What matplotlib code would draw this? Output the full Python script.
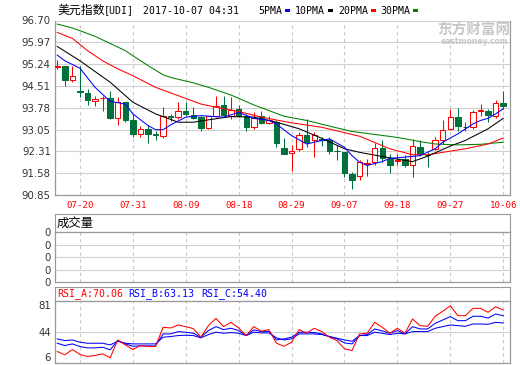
import numpy as np
import matplotlib
matplotlib.use('Agg')
import matplotlib.pyplot as plt
from matplotlib.patches import Rectangle

# trading days shown on the chart (MM-DD)
dates = ['07-17', '07-18', '07-19', '07-20', '07-21', '07-24', '07-25', '07-26', '07-27', '07-28',
         '07-31', '08-01', '08-02', '08-03', '08-04', '08-07', '08-08', '08-09', '08-10', '08-11',
         '08-14', '08-15', '08-16', '08-17', '08-18', '08-21', '08-22', '08-23', '08-24', '08-25',
         '08-28', '08-29', '08-30', '08-31', '09-01', '09-04', '09-05', '09-06', '09-07', '09-08',
         '09-11', '09-12', '09-13', '09-14', '09-15', '09-18', '09-19', '09-20', '09-21', '09-22',
         '09-25', '09-26', '09-27', '09-28', '09-29', '10-02', '10-03', '10-04', '10-05', '10-06']
date_ticks = ['07-20', '07-31', '08-09', '08-18', '08-29', '09-07', '09-18', '09-27', '10-06']

# daily OHLC
opens = [95.14, 95.19, 94.71, 94.33, 94.27, 93.99, 94.09, 94.10, 93.44, 93.97,
         93.38, 92.88, 93.07, 92.89, 92.84, 93.50, 93.46, 93.66, 93.52, 93.45,
         93.11, 93.49, 93.87, 93.51, 93.74, 93.49, 93.14, 93.49, 93.26, 93.29,
         92.43, 92.25, 92.40, 92.87, 92.70, 92.72, 92.70, 92.33, 92.29, 91.56,
         91.48, 91.90, 91.95, 92.44, 92.06, 92.00, 92.06, 91.87, 92.46, 92.20,
         92.40, 92.71, 93.07, 93.46, 93.13, 93.12, 93.67, 93.68, 93.51, 93.93]
highs = [95.36, 95.19, 95.19, 95.19, 94.41, 94.16, 94.16, 94.32, 94.15, 93.97,
         93.55, 93.16, 93.20, 93.01, 93.80, 93.57, 93.96, 93.96, 93.81, 93.51,
         93.51, 94.16, 94.18, 94.13, 93.87, 93.57, 93.62, 93.65, 93.49, 93.35,
         92.75, 92.53, 92.95, 93.40, 92.95, 92.79, 92.79, 92.53, 92.30, 91.62,
         92.01, 92.06, 92.59, 92.71, 92.23, 92.23, 92.20, 92.73, 92.68, 92.29,
         92.79, 93.35, 93.74, 93.76, 93.29, 93.71, 93.90, 93.74, 94.04, 94.32]
lows = [95.08, 94.52, 94.65, 94.13, 93.87, 93.85, 93.65, 93.40, 93.18, 93.29,
        92.79, 92.81, 92.59, 92.68, 92.75, 93.33, 93.40, 93.51, 93.40, 92.98,
        93.07, 93.47, 93.49, 93.40, 93.46, 93.01, 93.07, 93.23, 93.22, 92.45,
        92.21, 91.64, 92.31, 92.45, 92.14, 92.48, 92.21, 92.04, 91.45, 91.04,
        91.34, 91.50, 91.86, 91.95, 91.58, 91.84, 91.78, 91.45, 92.17, 91.80,
        92.37, 92.56, 93.03, 92.98, 93.01, 93.07, 93.49, 93.31, 93.42, 93.74]
closes = [95.16, 94.71, 94.83, 94.31, 94.02, 94.07, 94.11, 93.44, 93.96, 93.38,
          92.88, 93.07, 92.90, 92.87, 93.49, 93.48, 93.66, 93.55, 93.44, 93.11,
          93.49, 93.85, 93.54, 93.70, 93.49, 93.14, 93.43, 93.26, 93.35, 92.59,
          92.24, 92.34, 92.85, 92.64, 92.85, 92.70, 92.34, 92.31, 91.58, 91.36,
          91.95, 91.92, 92.43, 92.10, 91.87, 92.02, 91.87, 92.49, 92.23, 92.19,
          92.70, 93.03, 93.46, 93.16, 93.12, 93.62, 93.68, 93.54, 93.93, 93.82]

# moving averages (candle index, value)
ma5_idx = [0, 1, 3, 5, 7, 9, 10, 12, 13, 14, 15, 17, 19, 22, 24, 26, 28, 29, 31, 33,
           34, 36, 38, 39, 40, 41, 43, 44, 46, 48, 50, 51, 53, 55, 56, 57, 58, 59]
ma5_val = [95.54, 95.35, 95.10, 94.46, 93.99, 93.90, 93.57, 93.18, 93.04, 93.04,
           93.20, 93.46, 93.51, 93.46, 93.62, 93.42, 93.35, 93.23, 92.84, 92.56,
           92.62, 92.73, 92.45, 92.17, 91.95, 91.84, 91.97, 92.08, 92.12, 92.17,
           92.40, 92.62, 92.90, 93.23, 93.35, 93.42, 93.57, 93.74]
ma10_idx = [0, 3, 5, 7, 10, 13, 16, 18, 20, 23, 26, 29, 32, 35, 38, 40, 43, 46, 47, 49,
            52, 54, 57, 59]
ma10_val = [95.83, 95.35, 94.99, 94.63, 93.96, 93.57, 93.29, 93.29, 93.37, 93.48,
            93.46, 93.29, 93.07, 92.75, 92.40, 92.28, 92.14, 92.01, 91.97, 92.15,
            92.49, 92.68, 93.07, 93.42]
ma20_idx = [0, 2, 4, 6, 8, 10, 13, 16, 19, 21, 24, 27, 31, 35, 40, 44, 47, 49, 51, 54, 57, 59]
ma20_val = [96.30, 96.10, 95.69, 95.35, 95.08, 94.85, 94.46, 94.18, 93.90, 93.79,
            93.65, 93.46, 93.27, 93.12, 92.82, 92.40, 92.20, 92.20, 92.28, 92.40,
            92.56, 92.76]
ma30_idx = [0, 2, 5, 9, 10, 12, 14, 15, 18, 20, 23, 26, 30, 33, 36, 39, 42, 45, 48, 50,
            53, 56, 59]
ma30_val = [96.58, 96.45, 96.17, 95.69, 95.52, 95.19, 94.88, 94.79, 94.61, 94.46,
            94.20, 93.87, 93.49, 93.35, 93.16, 92.98, 92.88, 92.78, 92.64, 92.56,
            92.53, 92.55, 92.62]

price_ticks = ['90.85', '91.58', '92.31', '93.05', '93.78', '94.51', '95.24', '95.97', '96.70']

# RSI lines
rsi_a = [19.9, 15.9, 22.3, 16.3, 13.9, 15.1, 17.1, 12.3, 33.9, 27.9,
         22.3, 27.1, 25.9, 25.9, 49.2, 48.4, 52.0, 50.0, 47.6, 37.2,
         51.2, 60.0, 50.0, 55.2, 48.4, 39.2, 50.0, 44.4, 46.4, 29.9,
         26.3, 31.1, 46.4, 42.0, 48.0, 44.0, 37.2, 33.1, 23.1, 21.1,
         41.2, 42.0, 55.2, 49.2, 42.0, 48.0, 42.0, 59.2, 51.2, 50.4,
         62.5, 68.5, 75.3, 63.3, 63.3, 72.1, 72.1, 67.3, 74.1, 70.06]
rsi_b = [29.9, 27.1, 29.1, 25.9, 24.3, 24.3, 25.1, 21.9, 33.1, 29.1,
         26.3, 26.7, 26.7, 26.7, 41.2, 41.2, 44.0, 43.2, 42.0, 37.2,
         45.2, 50.0, 46.4, 48.0, 45.2, 39.2, 46.0, 44.0, 44.4, 33.9,
         35.2, 37.2, 43.2, 43.2, 42.8, 41.2, 38.0, 35.2, 30.3, 29.1,
         39.2, 40.4, 47.2, 44.8, 42.0, 45.2, 41.2, 50.0, 47.2, 47.2,
         54.0, 58.0, 62.1, 57.2, 57.2, 62.5, 62.5, 60.4, 65.3, 63.13]
rsi_c = [35.2, 33.1, 33.9, 31.1, 29.9, 29.9, 29.9, 27.9, 32.3, 29.9,
         29.1, 29.1, 29.1, 29.1, 37.2, 38.0, 39.2, 39.6, 39.2, 36.4,
         40.4, 43.2, 42.0, 42.8, 42.0, 39.2, 43.2, 42.4, 42.4, 36.4,
         33.9, 35.2, 41.2, 41.2, 41.2, 40.4, 38.0, 36.0, 33.9, 32.3,
         39.2, 39.2, 43.2, 42.0, 40.4, 42.0, 41.2, 44.0, 44.0, 44.0,
         48.0, 50.0, 52.0, 51.2, 50.4, 53.2, 53.2, 52.8, 55.2, 54.40]

W, H = 520, 365
RED = '#ff0000'
GREEN = '#00703c'
BLUE = '#0000ff'
EDGE = '#999999'
GRID = '#d0d0d0'
MONO = ['DejaVu Sans Mono', 'Noto Sans CJK SC']
CJK = ['Noto Sans CJK SC', 'DejaVu Sans']
LW = 0.75


def box(l, t, r, b):
    # pixel box -> figure rect
    return [l / W, 1 - b / H, (r - l) / W, (b - t) / H]


def ftext(x, y, s, **kw):
    fig.text(x / W, 1 - y / H, s, va='center', **kw)


def style(ax, ticks):
    ax.set_xlim(-0.3, 59.9)
    ax.set_xticks(ticks)
    ax.set_xticklabels([])
    ax.tick_params(length=0, labelsize=7.3, labelcolor='#333333', pad=3)
    ax.grid(axis='x', color='#c8c8c8', linestyle=(0, (3, 3)), lw=0.8)
    ax.grid(axis='y', color=GRID, linestyle='-', lw=0.8)
    for s in ax.spines.values():
        s.set_color(EDGE)
        s.set_linewidth(0.9)


fig = plt.figure(figsize=(W / 100, H / 100), dpi=100)

x = np.arange(len(dates))
o = np.array(opens)
c = np.array(closes)
up = c >= o
tick_pos = [dates.index(d) for d in date_ticks]

# ---- price panel
ax = fig.add_axes(box(55, 20.5, 510, 195))
style(ax, tick_pos)
ax.spines['top'].set_visible(False)
ax.set_ylim(90.85, 96.70)
ax.set_yticks(np.linspace(90.85, 96.70, 9))
ax.set_yticklabels(price_ticks)

col = np.where(up, RED, GREEN)
ax.vlines(x, lows, highs, colors=col, lw=LW, zorder=3)
body = np.maximum(np.abs(c - o), 0.015)
ax.bar(x, body, bottom=np.minimum(o, c), width=0.72,
       color=np.where(up, 'white', GREEN), edgecolor=col, lw=LW, zorder=4)

ax.plot(ma30_idx, ma30_val, color='#008000', lw=LW, zorder=5)
ax.plot(ma20_idx, ma20_val, color=RED, lw=LW, zorder=5)
ax.plot(ma10_idx, ma10_val, color='black', lw=LW, zorder=5)
ax.plot(ma5_idx, ma5_val, color=BLUE, lw=LW, zorder=5)

for p, d in zip(tick_pos, date_ticks):
    ax.text(p, -0.035, d, transform=ax.get_xaxis_transform(), ha='center', va='top',
            color=RED, fontsize=6.6, family=MONO)

# ---- volume panel (empty)
axvh = fig.add_axes(box(55, 214, 510, 232))
axvh.set_xticks([]); axvh.set_yticks([])
for s in axvh.spines.values():
    s.set_color(EDGE)
ftext(57, 223.5, '成交量', fontsize=8.9, family=CJK)

axv = fig.add_axes(box(55, 232, 510, 282))
style(axv, tick_pos)
axv.set_ylim(0, 4)
axv.set_yticks([0, 1, 2, 3, 4])
axv.set_yticklabels(['0'] * 5)

# ---- RSI panel
axrh = fig.add_axes(box(55, 287, 510, 301))
axrh.set_xticks([]); axrh.set_yticks([])
for s in axrh.spines.values():
    s.set_color(EDGE)
ftext(57, 294, 'RSI_A:70.06', color=RED, fontsize=7.1, family=MONO)
ftext(128, 294, 'RSI_B:63.13', color=BLUE, fontsize=7.1, family=MONO)
ftext(201, 294, 'RSI_C:54.40', color=BLUE, fontsize=7.1, family=MONO)

axr = fig.add_axes(box(55, 301, 510, 363))
style(axr, tick_pos)
axr.set_ylim(6, 81)
axr.set_yticks([6, 44, 81])
axr.set_yticklabels(['6', '44', '81'])
labs = axr.get_yticklabels()
labs[0].set_va('bottom')
labs[2].set_va('top')
axr.plot(x, rsi_c, color=BLUE, lw=LW)
axr.plot(x, rsi_b, color=BLUE, lw=LW)
axr.plot(x, rsi_a, color=RED, lw=LW)

# ---- header line
ftext(57, 10.5, '美元指数', fontsize=8.6, family=CJK)
ftext(104, 10.5, '[UDI]', fontsize=7.1, family=MONO)
ftext(143, 10.5, '2017-10-07 04:31', fontsize=7.1, family=MONO)
for lx, name, mc in [(258, '5PMA', BLUE), (295, '10PMA', 'black'),
                     (338, '20PMA', RED), (380, '30PMA', '#008000')]:
    ftext(lx, 10.5, name, fontsize=7.1, family=MONO)
    mx = lx + len(name) * 5.9 + 3
    fig.add_artist(Rectangle((mx / W, 1 - 12 / H), 5 / W, 2.5 / H,
                             transform=fig.transFigure, color=mc, lw=0))

# watermark
ftext(474, 30, '东方财富网', fontsize=10.5, family=CJK, color='#c8c8c8',
      ha='center', weight='bold')
ftext(474, 41, 'eastmoney.com', fontsize=5.5, family=['DejaVu Sans'], color='#c8c8c8',
      ha='center', weight='bold')

plt.savefig('out.png', dpi=100)
